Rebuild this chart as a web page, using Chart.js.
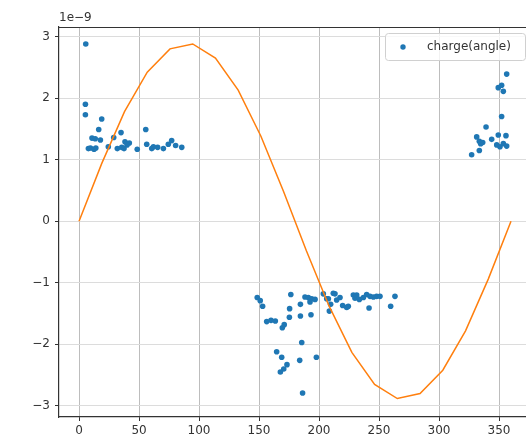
<!DOCTYPE html>
<html>
<head>
<meta charset="utf-8">
<script src="https://cdn.jsdelivr.net/npm/chart.js@4/dist/chart.umd.min.js"></script>
<style>
    html, body { margin: 0; padding: 0; background: #fff; }
    #chart { display: block; }
</style>
</head>
<body>
<canvas id="chart" width="526" height="440"></canvas>
<script>
// measured points, angle in degrees, charge in units of 1e-9
const chargeAngles = [
    5.6, 5.3, 5.3, 18.9, 16.4, 55.6, 35, 10.8, 13.5, 17.8, 28.9, 38.3, 41.9, 7.8, 9.5, 12.5,
    14, 24.4, 31.9, 35.6, 40, 37.5, 48.5, 56.4, 60.6, 62, 65.5, 70.3, 74.4, 77.2, 80.5, 85.6,
    148.5, 151, 153, 156.4, 160, 163.6, 169.4, 171, 175.3, 175.5, 176.5, 184.5, 184.5, 185.6,
    164.7, 168.9, 173.3, 170.6, 167.8, 183.9, 197.8, 186.3, 193.3, 188.3, 191.1, 193.9, 196.7,
    192.5, 203.6, 206.4, 209.7, 211.9, 214.7, 217.5, 219.7, 223.1, 224.4, 208.6, 228.6, 230,
    231.4, 233.6, 237, 239.7, 242.5, 245.3, 248, 250.8, 241.7, 259.7, 263.3, 207.8, 213.3,
    356.4, 349.4, 352.2, 353.6, 352.2, 339.2, 331.4, 333.6, 336.4, 334.7, 343.9, 349.4, 355.8,
    348.1, 350.8, 353.6, 356.4, 333.6, 327.2
];
const chargeValues = [
    2.88, 1.90, 1.73, 1.66, 1.49, 1.49, 1.44, 1.35, 1.34, 1.32, 1.36, 1.29, 1.27, 1.18, 1.19, 1.17,
    1.19, 1.21, 1.18, 1.20, 1.24, 1.18, 1.17, 1.25, 1.18, 1.21, 1.20, 1.18, 1.25, 1.31, 1.23, 1.20,
    -1.24, -1.29, -1.38, -1.63, -1.61, -1.62, -1.73, -1.68, -1.56, -1.42, -1.19, -1.35, -1.54, -1.97,
    -2.12, -2.21, -2.33, -2.40, -2.45, -2.26, -2.21, -2.79, -1.52, -1.23, -1.24, -1.26, -1.27,
    -1.31, -1.18, -1.26, -1.35, -1.17, -1.28, -1.24, -1.37, -1.40, -1.38, -1.46, -1.20, -1.25,
    -1.20, -1.27, -1.24, -1.19, -1.22, -1.23, -1.22, -1.22, -1.41, -1.38, -1.22, -1.26, -1.18,
    2.39, 2.17, 2.21, 2.11, 1.70, 1.53, 1.37, 1.30, 1.28, 1.26, 1.33, 1.40, 1.39,
    1.24, 1.21, 1.26, 1.22, 1.15, 1.08
];

// orange curve vertices
const curveAngles = [0, 18.95, 37.89, 56.84, 75.79, 94.74, 113.68, 132.63, 151.58, 170.53,
    189.47, 208.42, 227.37, 246.32, 265.26, 284.21, 303.16, 322.11, 341.05, 360];
const curveValues = [0, 0.94, 1.78, 2.42, 2.80, 2.88, 2.65, 2.13, 1.38, 0.48,
    -0.48, -1.38, -2.13, -2.65, -2.88, -2.80, -2.42, -1.78, -0.94, 0];

const xTicks = [0, 50, 100, 150, 200, 250, 300, 350];
const yTicks = [-3, -2, -1, 0, 1, 2, 3];

const FONT = "'DejaVu Sans', sans-serif";

const extras = {
    id: 'extras',
    afterDraw(chart) {
        const { ctx, chartArea } = chart;
        ctx.save();
        // top spine
        ctx.strokeStyle = '#333';
        ctx.lineWidth = 1.2;
        ctx.beginPath();
        ctx.moveTo(chartArea.left, chartArea.top + 0.5);
        ctx.lineTo(chartArea.right, chartArea.top + 0.5);
        ctx.stroke();

        // offset text
        ctx.fillStyle = '#333';
        ctx.font = '12px ' + FONT;
        ctx.textAlign = 'left';
        ctx.textBaseline = 'alphabetic';
        ctx.fillText('1e\u22129', 59, 21);

        // legend box
        const bx = 385.5, by = 33.5, bw = 140, bh = 27;
        ctx.fillStyle = 'rgba(255,255,255,0.8)';
        ctx.strokeStyle = '#d0d0d0';
        ctx.lineWidth = 1;
        ctx.beginPath();
        ctx.roundRect(bx, by, bw, bh, 3);
        ctx.fill();
        ctx.stroke();
        ctx.fillStyle = '#1f77b4';
        ctx.beginPath();
        ctx.arc(403, 47, 2.7, 0, Math.PI * 2);
        ctx.fill();
        ctx.fillStyle = '#333';
        ctx.textBaseline = 'middle';
        ctx.fillText('charge(angle)', 427, 47);
        ctx.restore();
    }
};

new Chart(document.getElementById('chart'), {
    type: 'scatter',
    data: {
        datasets: [
            {
                label: 'curve',
                data: curveAngles.map((a, i) => ({ x: a, y: curveValues[i] })),
                showLine: true,
                borderColor: '#ff7f0e',
                borderWidth: 1.5,
                pointRadius: 0,
                tension: 0,
                order: 0
            },
            {
                label: 'charge(angle)',
                data: chargeAngles.map((a, i) => ({ x: a, y: chargeValues[i] })),
                showLine: false,
                backgroundColor: '#1f77b4',
                borderWidth: 0,
                pointRadius: 2.8,
                order: 1
            }
        ]
    },
    options: {
        responsive: false,
        animation: false,
        devicePixelRatio: 1,
        layout: {
            autoPadding: false,
            padding: { top: 27, right: 0, left: 0, bottom: 0 }
        },
        plugins: {
            legend: { display: false },
            tooltip: { enabled: false }
        },
        scales: {
            x: {
                type: 'linear',
                min: -16.7,
                max: 372.5,
                afterBuildTicks: scale => { scale.ticks = xTicks.map(v => ({ value: v })); },
                afterFit: scale => {
                    scale.height = 23;
                    scale.paddingLeft = 0;
                    scale.paddingRight = 0;
                },
                ticks: {
                    color: '#333',
                    font: { family: FONT, size: 12 },
                    padding: 3,
                    maxRotation: 0,
                    callback: v => String(v)
                },
                grid: {
                    color: '#bdbdbd',
                    lineWidth: 1,
                    tickColor: '#333',
                    tickLength: 4
                },
                border: { display: true, color: '#333', width: 1.2 }
            },
            y: {
                type: 'linear',
                min: -3.18,
                max: 3.155,
                afterBuildTicks: scale => { scale.ticks = yTicks.map(v => ({ value: v })); },
                afterFit: scale => {
                    scale.width = 59;
                    scale.paddingTop = 0;
                    scale.paddingBottom = 0;
                },
                ticks: {
                    color: '#333',
                    font: { family: FONT, size: 12 },
                    padding: 5,
                    callback: v => String(v).replace('-', '\u2212')
                },
                grid: {
                    color: '#dcdcdc',
                    lineWidth: 1,
                    tickColor: '#333',
                    tickLength: 4
                },
                border: { display: true, color: '#333', width: 1.2 }
            }
        }
    },
    plugins: [extras]
});
</script>
</body>
</html>
